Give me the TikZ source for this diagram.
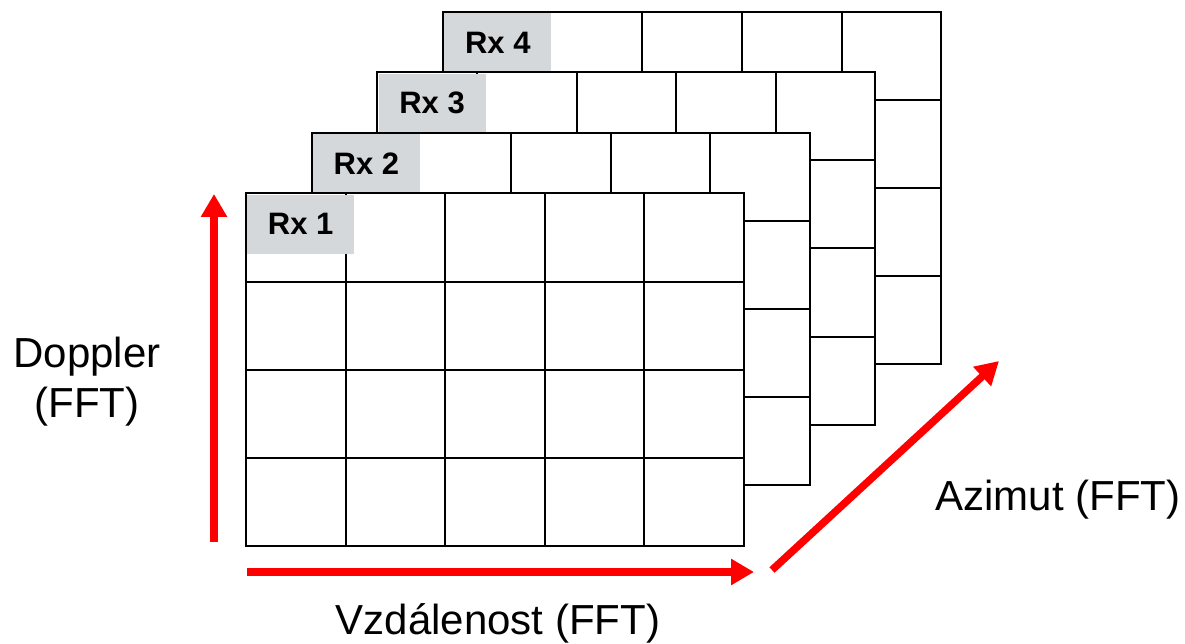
\documentclass[tikz,border=0pt]{standalone}
\usepackage{fontspec}
\setmainfont{Liberation Sans}
\usetikzlibrary{arrows.meta}
\definecolor{tabgray}{RGB}{212,216,219}
\definecolor{axisred}{RGB}{255,0,0}

% One receiver layer: a 5x4 range-Doppler grid with its tab
% #1,#2 = top-left corner, #3 = tab node name, #4 = tab text
\newcommand\rxlayer[4]{%
  \begin{scope}[shift={(#1,#2)}]
    \fill[white] (0,0) rectangle (498,352);
    \foreach \c in {1,...,4} \draw[gridline] (\c*99.6,0) -- (\c*99.6,352);
    \foreach \r in {1,2,3} \draw[gridline] (0,\r*88) -- (498,\r*88);
    \node[rxtab] (#3) at (1,1) {#4};
    \draw[gridline] (0,0) rectangle (498,352);
  \end{scope}}

\begin{document}
\begin{tikzpicture}[x=1pt,y=-1pt,
  gridline/.style={line width=2pt, draw=black},
  rxtab/.style={fill=tabgray, minimum width=107pt, minimum height=59pt,
    inner sep=0pt, anchor=north west, font=\fontsize{31}{36}\selectfont\bfseries},
  axis/.style={draw=axisred, line width=7.5pt, -{Triangle[width=25pt,length=23pt]}},
  axislabel/.style={font=\fontsize{42}{50}\selectfont, inner sep=0pt}
]
\useasboundingbox (0,0) rectangle (1185,644);

% layers from back to front
\rxlayer{443.1}{12}{rx4}{Rx 4}
\rxlayer{377.4}{72.5}{rx3}{Rx 3}
\rxlayer{311.7}{133}{rx2}{Rx 2}
\rxlayer{246}{193.5}{rx1}{Rx 1}

% axes
\coordinate (dopStart) at (214,542);
\coordinate (dopEnd) at (214,194);
\coordinate (rngStart) at (247,572);
\coordinate (rngEnd) at (754,572);
\coordinate (azStart) at (772,570);
\coordinate (azEnd) at (999,361);
\draw[axis] (dopStart) -- (dopEnd);
\draw[axis] (rngStart) -- (rngEnd);
\draw[axis] (azStart) -- (azEnd);

% axis labels
\node[axislabel, align=center] (doppler) at (87,382) {Doppler\\(FFT)};
\node[axislabel, anchor=base] (range) at (498,634) {Vzdálenost (FFT)};
\node[axislabel, anchor=base] (azimuth) at (1058,510) {Azimut (FFT)};
\end{tikzpicture}
\end{document}
